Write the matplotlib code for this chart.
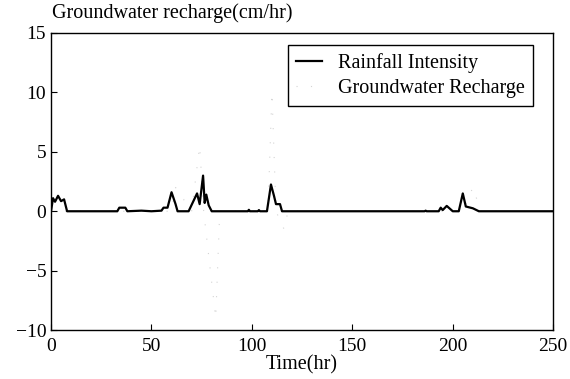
import matplotlib.pyplot as plt

plt.rcParams['font.family'] = ['Liberation Serif', 'DejaVu Serif']

# rainfall intensity (cm/hr) over time (hr)
rain_t = [0, 1, 2, 3.5, 5, 6.5, 8, 33, 34, 37, 38, 45, 50, 55, 56, 58, 60, 62, 63,
          68.5, 72.7, 74, 75.7, 76.5, 77.3, 78.5, 80, 98, 98.5, 99, 103, 103.5, 104,
          107.5, 109.5, 111, 112, 114, 115, 186, 186.5, 187, 193, 194, 195, 197, 198,
          199, 200, 203, 205, 206.5, 210, 213, 250]
rain_v = [0, 1.1, 0.8, 1.3, 0.85, 1.0, 0, 0, 0.3, 0.3, 0, 0.05, 0, 0.05, 0.3, 0.3, 1.6, 0.6, 0,
          0, 1.5, 0.6, 3.0, 0.7, 1.4, 0.5, 0, 0, 0.12, 0, 0, 0.1, 0, 0, 2.25, 1.3, 0.6,
          0.6, 0, 0, 0.05, 0, 0, 0.3, 0.1, 0.45, 0.3, 0.15, 0, 0, 1.5, 0.4, 0.25, 0, 0]

# groundwater recharge (cm/hr), faint trace
rech_t = [0, 60, 62, 70, 74, 76, 82, 84, 108, 110, 111, 112, 116, 118, 205, 210, 214, 250]
rech_v = [0, 0, 2.0, 0, 5.5, 0, -9, 0, 0, 10, 5, 0, -1.5, 0, 0, 2.0, 0, 0]

fig = plt.figure(figsize=(5.7, 3.79), dpi=100)
ax = fig.add_axes([0.0895, 0.129, 0.881, 0.784])

ax.plot(rech_t, rech_v, color='#d4d4d4', lw=0.8, linestyle=(0, (1, 12)),
        label='Groundwater Recharge')
ax.plot(rain_t, rain_v, color='black', lw=1.6, label='Rainfall Intensity')

ax.set_xlim(0, 250)
ax.set_ylim(-10, 15)
ax.set_xticks([0, 50, 100, 150, 200, 250])
ax.set_yticks([-10, -5, 0, 5, 10, 15])
ax.tick_params(direction='in', length=4, width=0.8, labelsize=14)
ax.tick_params(axis='x', pad=6)
for s in ax.spines.values():
    s.set_linewidth(1.0)

ax.set_xlabel('Time(hr)', fontsize=14.5, labelpad=0)
fig.text(0.092, 0.952, 'Groundwater recharge(cm/hr)', fontsize=14.5)

handles, labels = ax.get_legend_handles_labels()
leg = ax.legend(handles[::-1], labels[::-1], loc='upper right', fontsize=14.5,
                fancybox=False, edgecolor='black', framealpha=1,
                handlelength=1.3, borderaxespad=0, labelspacing=0.3,
                bbox_to_anchor=(0.96, 0.96))
leg.get_frame().set_linewidth(1.0)

fig.savefig('out.png', dpi=100)
